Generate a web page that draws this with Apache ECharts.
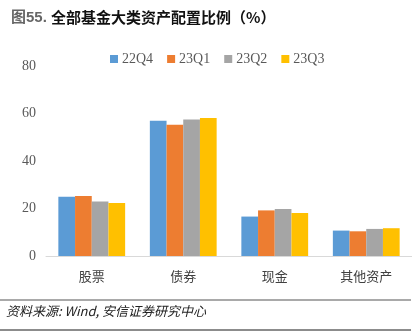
<!DOCTYPE html>
<html><head><meta charset="utf-8">
<script src="https://cdn.jsdelivr.net/npm/echarts@6/dist/echarts.min.js"></script>
<style>html,body{margin:0;padding:0;background:#fff}#c{width:412px;height:336px}</style>
</head><body><div id="c"></div>
<script>
const categories = ['股票', '债券', '现金', '其他资产'];
const seriesNames = ['22Q4', '23Q1', '23Q2', '23Q3'];
const s22Q4 = [25.0, 57.0, 16.6, 10.7];
const s23Q1 = [25.3, 55.3, 19.2, 10.4];
const s23Q2 = [22.9, 57.5, 19.8, 11.4];
const s23Q3 = [22.3, 58.1, 18.1, 11.7];
const yTicks = [0, 20, 40, 60, 80];
const colors = ['#5b9bd5', '#ed7d31', '#a5a5a5', '#ffc000'];
const values = [s22Q4, s23Q1, s23Q2, s23Q3];

const chart = echarts.init(document.getElementById('c'), null, {renderer: 'canvas'});
chart.setOption({
  animation: false,
  color: colors,
  title: {
    left: 6, top: 5,
    text: '{a|图55. }{b|全部基金大类资产配置比例（%）}',
    textStyle: {
      rich: {
        a: {fontFamily: 'Liberation Sans, Noto Sans CJK SC', fontSize: 15, color: '#666666'},
        b: {fontFamily: 'Noto Sans CJK SC', fontSize: 15, fontWeight: 'bold', color: '#111111'}
      }
    }
  },
  legend: {
    data: seriesNames,
    left: 105, top: 47,
    itemWidth: 8, itemHeight: 8, itemGap: 14,
    icon: 'rect',
    textStyle: {fontFamily: 'Liberation Serif', fontSize: 14, color: '#595959', padding: [0, 0, 0, -1]}
  },
  grid: {left: 46, width: 368, top: 66, height: 190, containLabel: false},
  xAxis: {
    type: 'category',
    data: categories,
    axisLine: {lineStyle: {color: '#d9d9d9', width: 1}},
    axisTick: {show: false},
    axisLabel: {fontFamily: 'Noto Sans CJK SC', fontSize: 13, color: '#404040', margin: 14}
  },
  yAxis: {
    type: 'value', min: yTicks[0], max: yTicks[yTicks.length - 1], interval: 20,
    axisLine: {show: false}, axisTick: {show: false},
    splitLine: {show: false},
    axisLabel: {fontFamily: 'Liberation Serif', fontSize: 14, color: '#595959', margin: 10}
  },
  series: seriesNames.map((n, i) => ({
    name: n, type: 'bar', data: values[i],
    barGap: '0%', barCategoryGap: '27%',
    itemStyle: {color: colors[i]}
  })),
  graphic: [
    {type: 'line', shape: {x1: 0, y1: 300, x2: 411, y2: 300}, style: {stroke: '#8c8c8c', lineWidth: 1.5}},
    {type: 'text', left: 6, top: 305, style: {text: '资料来源: Wind, 安信证券研究中心', fontFamily: 'Noto Sans CJK SC', fontSize: 13, fontStyle: 'italic', fill: '#222222'}},
    {type: 'line', shape: {x1: 0, y1: 330, x2: 411, y2: 330}, style: {stroke: '#8c8c8c', lineWidth: 2}}
  ]
});
</script></body></html>
